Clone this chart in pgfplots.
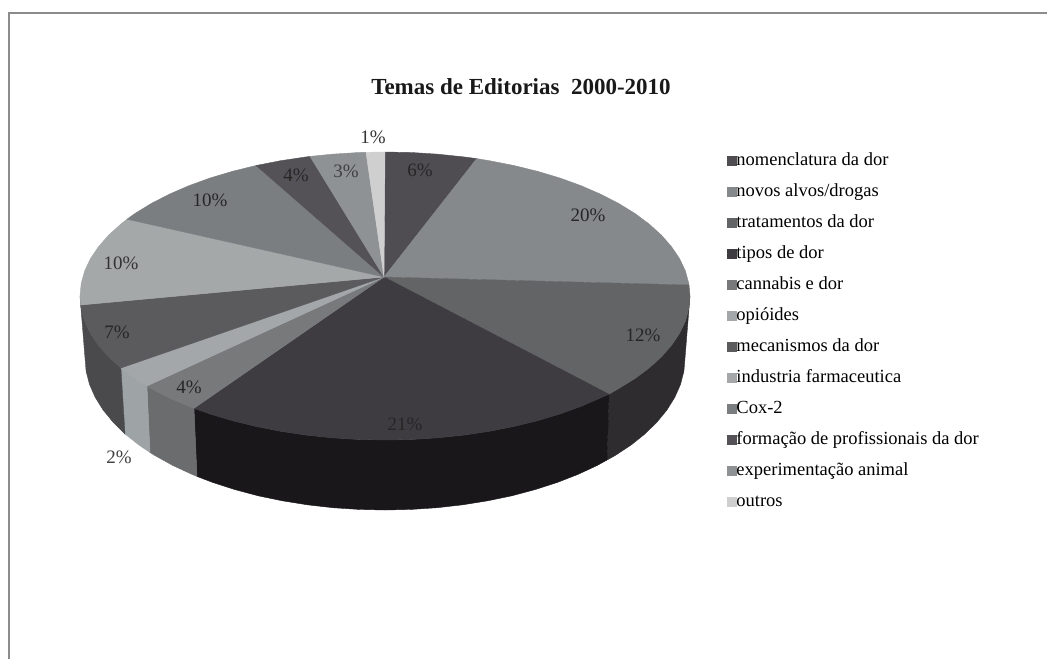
\documentclass[border=0pt]{standalone}
\usepackage{pgfplots}
\pgfplotsset{compat=1.18}
\usepackage{fontspec}
\setmainfont{Liberation Serif}
% top faces
\definecolor{cNom}{HTML}{4F4D52}
\definecolor{cNov}{HTML}{85898B}
\definecolor{cTra}{HTML}{636466}
\definecolor{cTip}{HTML}{3E3C40}
\definecolor{cCan}{HTML}{77797B}
\definecolor{cOpi}{HTML}{A3A7A9}
\definecolor{cMec}{HTML}{5B5B5E}
\definecolor{cInd}{HTML}{A4A8A9}
\definecolor{cCox}{HTML}{7B7E80}
\definecolor{cFor}{HTML}{545256}
\definecolor{cExp}{HTML}{8E9294}
\definecolor{cOut}{HTML}{CFCFD0}
% side walls
\definecolor{wTra}{HTML}{2E2C2F}
\definecolor{wTip}{HTML}{1A171B}
\definecolor{wCan}{HTML}{6A6C6E}
\definecolor{wOpi}{HTML}{9EA3A5}
\definecolor{wMec}{HTML}{4A4A4D}
\newcommand{\lblfont}{\fontsize{19}{22}\selectfont}
\pgfplotsset{
  slice/.style={fill=#1, draw=#1, line width=0.4pt, mark=none},
  wall/.style={fill=#1, draw=#1, line width=0.4pt, mark=none, forget plot},
}
\begin{document}
\begin{tikzpicture}
\begin{axis}[
  scale only axis, width=1051pt, height=659pt,
  xmin=0, xmax=1051, ymin=0, ymax=659, y dir=reverse,
  hide axis, clip=false,
  legend image code/.code={\fill[#1] (0pt,-4.5pt) rectangle (9pt,4.5pt);},
  legend cell align=left,
  legend style={
    at={(axis cs:727,152)}, anchor=north west,
    draw=none, fill=none, inner sep=0pt, outer sep=0pt,
    row sep=14pt, font=\fontsize{18.5}{20}\selectfont,
    nodes={inner sep=0pt, outer sep=0pt, text height=13pt, text depth=4pt},
    /tikz/every even column/.append style={column sep=6pt},
  },
]
% page background and frame
\addplot[fill=white, draw=none, mark=none, forget plot] coordinates {(0,0)(1051,0)(1051,659)(0,659)} -- cycle;
\addplot[draw=black!45, line width=1.4pt, mark=none, forget plot] coordinates {(9,659)(9,13)(1047,13)};

% side walls, seen below the rim
\addplot[wall=wTra] coordinates {(690,296)(688.8,308.6)(685.4,321)(679.6,333.3)(671.6,345.2)(661.4,356.9)(649.1,368)(634.9,378.6)(618.6,388.6)(609,394.2)(607,460)(614.8,455.7)(630.8,445.2)(644.8,434)(656.9,422.2)(666.9,410)(674.8,397.3)(680.5,384.4)(683.9,371.2)(685,358)} -- cycle;
\addplot[wall=wTip] coordinates {(609,394.2)(600.7,397.8)(581.1,406.3)(559.9,414)(537.5,420.7)(513.9,426.5)(489.3,431.3)(463.9,435.1)(438,437.8)(411.6,439.5)(385,440)(358.4,439.5)(332,437.8)(306.1,435.1)(280.7,431.3)(256.1,426.5)(232.5,420.7)(210.1,414)(194,408.3)(197,476.4)(212.9,482.5)(235,489.6)(258.2,495.8)(282.4,500.8)(307.4,504.8)(332.9,507.7)(358.8,509.4)(385,510)(411.2,509.4)(437.1,507.7)(462.6,504.8)(487.6,500.8)(511.8,495.8)(535,489.6)(557.1,482.5)(577.9,474.4)(597.1,465.5)(607,460)} -- cycle;
\addplot[wall=wCan] coordinates {(194,408.3)(188.9,406.3)(169.3,397.8)(151.4,388.6)(147,386)(150,452.5)(155.2,455.7)(172.9,465.5)(192.1,474.4)(197,476.4)} -- cycle;
\addplot[wall=wOpi] coordinates {(147,386)(135.1,378.6)(120.9,368)(125,434)(139.2,445.2)(150,452.5)} -- cycle;
\addplot[wall=wMec] coordinates {(120.9,368)(108.6,356.9)(98.4,345.2)(90.4,333.3)(84.6,321)(81.2,308.6)(80,296)(85,358)(86.1,371.2)(89.5,384.4)(95.2,397.3)(103.1,410)(113.1,422.2)(125,434)} -- cycle;

% top faces of the twelve slices, clockwise from twelve o'clock
\addplot[slice=cNom] coordinates {(384,277)(385,152)(411.6,152.5)(438,154.2)(463.9,156.9)(476.7,158.6)} -- cycle;
\addlegendentry{nomenclatura da dor}
\addplot[slice=cNov] coordinates {(384,277)(476.7,158.6)(489.3,160.7)(513.9,165.5)(537.5,171.3)(559.9,178)(581.1,185.7)(600.7,194.2)(618.6,203.4)(634.9,213.4)(649.1,224)(661.4,235.1)(671.6,246.8)(679.6,258.7)(685.4,271)(688.8,283.4)(689,285)} -- cycle;
\addlegendentry{novos alvos/drogas}
\addplot[slice=cTra] coordinates {(384,277)(689,285)(690,296)(688.8,308.6)(685.4,321)(679.6,333.3)(671.6,345.2)(661.4,356.9)(649.1,368)(634.9,378.6)(618.6,388.6)(609,394.2)} -- cycle;
\addlegendentry{tratamentos da dor}
\addplot[slice=cTip] coordinates {(384,277)(609,394.2)(600.7,397.8)(581.1,406.3)(559.9,414)(537.5,420.7)(513.9,426.5)(489.3,431.3)(463.9,435.1)(438,437.8)(411.6,439.5)(385,440)(358.4,439.5)(332,437.8)(306.1,435.1)(280.7,431.3)(256.1,426.5)(232.5,420.7)(210.1,414)(194,408.3)} -- cycle;
\addlegendentry{tipos de dor}
\addplot[slice=cCan] coordinates {(384,277)(194,408.3)(188.9,406.3)(169.3,397.8)(151.4,388.6)(147,386)} -- cycle;
\addlegendentry{cannabis e dor}
\addplot[slice=cOpi] coordinates {(384,277)(147,386)(135.1,378.6)(120.9,368)} -- cycle;
\addlegendentry{opióides}
\addplot[slice=cMec] coordinates {(384,277)(120.9,368)(108.6,356.9)(98.4,345.2)(90.4,333.3)(84.6,321)(81.2,308.6)(80.7,305)} -- cycle;
\addlegendentry{mecanismos da dor}
\addplot[slice=cInd] coordinates {(384,277)(80.7,305)(80,296)(81.2,283.4)(84.6,271)(90.4,258.7)(98.4,246.8)(108.6,235.1)(120.9,224)(127,219.2)} -- cycle;
\addlegendentry{industria farmaceutica}
\addplot[slice=cCox] coordinates {(384,277)(127,219.2)(135.1,213.4)(151.4,203.4)(169.3,194.2)(188.9,185.7)(210.1,178)(232.5,171.3)(256.1,165.5)} -- cycle;
\addlegendentry{Cox-2}
\addplot[slice=cFor] coordinates {(384,277)(256.1,165.5)(280.7,160.7)(306.1,156.9)(310,156.4)} -- cycle;
\addlegendentry{formação de profissionais da dor}
\addplot[slice=cExp] coordinates {(384,277)(310,156.4)(332,154.2)(358.4,152.5)(366,152.3)} -- cycle;
\addlegendentry{experimentação animal}
\addplot[slice=cOut] coordinates {(384,277)(366,152.3)(385,152)} -- cycle;
\addlegendentry{outros}

% title and percentage labels
\node[font=\fontsize{23}{26}\selectfont\bfseries, text=black!90] at (axis cs:521,87) {Temas de Editorias\ \ 2000-2010};
\node[font=\lblfont, text=black!80] at (axis cs:373,137) {1\%};
\node[font=\lblfont, text=black!85] at (axis cs:420,170) {6\%};
\node[font=\lblfont, text=black!85] at (axis cs:588,215) {20\%};
\node[font=\lblfont, text=black!85] at (axis cs:643,335) {12\%};
\node[font=\lblfont, text=black!85] at (axis cs:405,424) {21\%};
\node[font=\lblfont, text=black!85] at (axis cs:189,387) {4\%};
\node[font=\lblfont, text=black!75] at (axis cs:119,457) {2\%};
\node[font=\lblfont, text=black!85] at (axis cs:117,332) {7\%};
\node[font=\lblfont, text=black!80] at (axis cs:121,263) {10\%};
\node[font=\lblfont, text=black!85] at (axis cs:210,200) {10\%};
\node[font=\lblfont, text=black!85] at (axis cs:296,175) {4\%};
\node[font=\lblfont, text=black!75] at (axis cs:346,171) {3\%};
\end{axis}
\end{tikzpicture}
\end{document}
